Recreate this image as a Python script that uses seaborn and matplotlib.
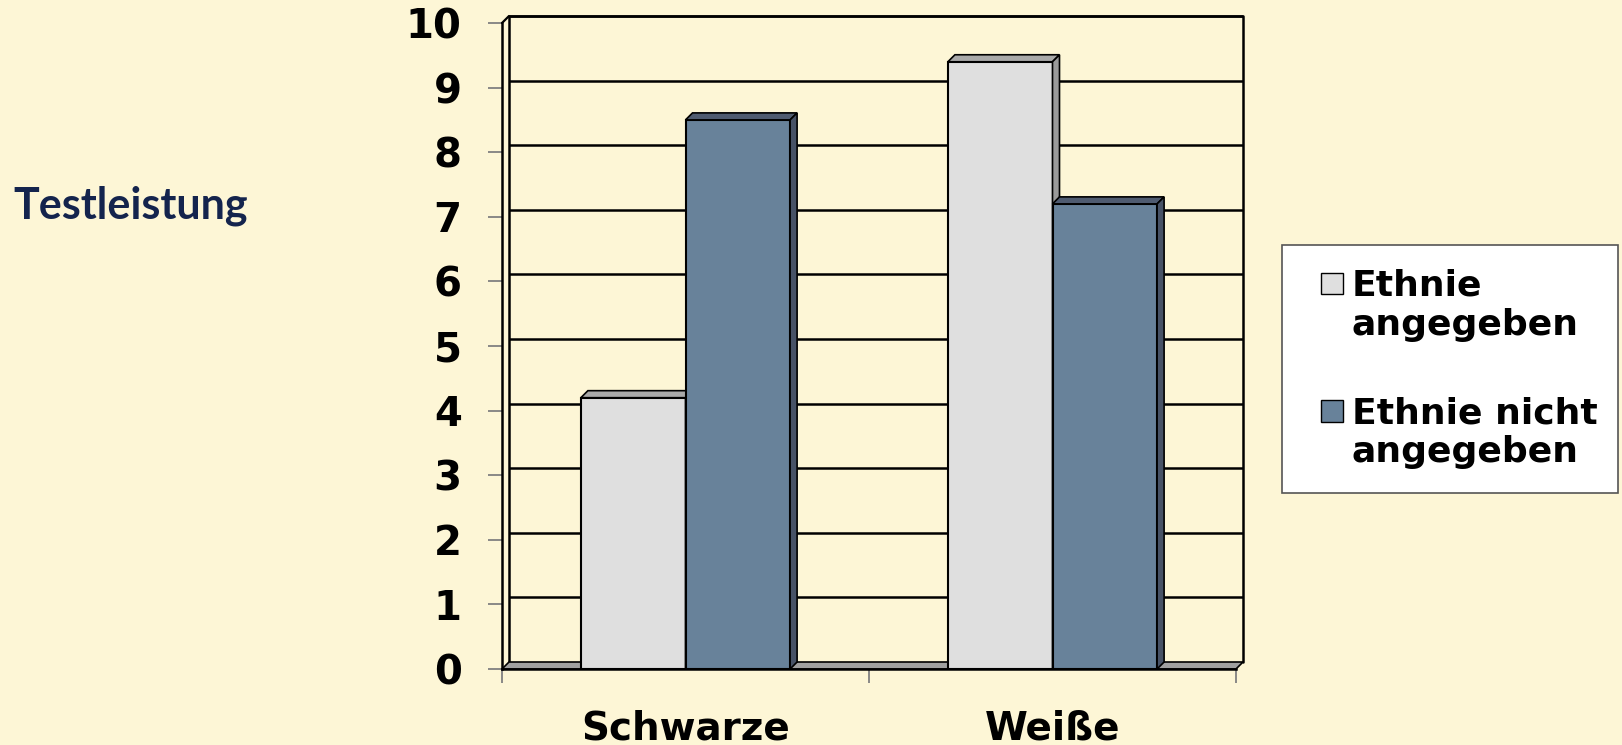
import numpy as np
import pandas as pd
import matplotlib
matplotlib.use("Agg")
import matplotlib.pyplot as plt
import matplotlib.transforms as mtrans
import seaborn as sns
from matplotlib.patches import Polygon, Rectangle
from matplotlib.legend_handler import HandlerPatch
from matplotlib.colors import to_rgb

# ---------------- data ----------------
groups = ["Schwarze", "Weiße"]
conditions = ["Ethnie\nangegeben", "Ethnie nicht\nangegeben"]
values_angegeben = [4.2, 9.4]
values_nicht_angegeben = [8.5, 7.2]
y_ticks = list(range(0, 11))
y_label = "Testleistung"

# ---------------- style ----------------
BG = "#fdf6d6"
LIGHT, DARK = "#dfdfdf", "#68829a"
FACE3D = {LIGHT: ("#a9a9a9", "#9a9a9a"), DARK: ("#4f5b70", "#475266")}
FLOOR = "#a0a0a0"
W, H, DPI = 1622, 745, 100
DEPTH = 7  # px of pseudo-3D depth

df = pd.DataFrame({
    "Gruppe": groups * 2,
    "Bedingung": [conditions[0]] * len(groups) + [conditions[1]] * len(groups),
    "Wert": values_angegeben + values_nicht_angegeben,
})

sns.set_theme(style="white")
plt.rcParams["font.family"] = ["DejaVu Sans"]

fig = plt.figure(figsize=(W / DPI, H / DPI), dpi=DPI, facecolor=BG)
ax_l, ax_r, ax_t, ax_b = 502, 1236, 23, 669
ax = fig.add_axes([ax_l / W, 1 - ax_b / H, (ax_r - ax_l) / W, (ax_b - ax_t) / H])
ax.set_facecolor("none")

sns.barplot(data=df, x="Gruppe", y="Wert", hue="Bedingung", order=groups,
            hue_order=conditions, palette=[LIGHT, DARK], saturation=1, width=0.57,
            edgecolor="black", linewidth=1.5, legend=False, ax=ax)
ax.set_ylim(y_ticks[0], y_ticks[-1])
ax.set_xlim(-0.5, len(groups) - 0.5)

ox = DEPTH / (ax_r - ax_l)
oy = DEPTH / (ax_b - ax_t)
xmin, xmax = ax.get_xlim()
ymin, ymax = ax.get_ylim()
dxd = ox * (xmax - xmin)
dyd = oy * (ymax - ymin)

# pseudo-3D faces for bars
bars = sorted([p for p in ax.patches if isinstance(p, Rectangle)], key=lambda p: p.get_x())
for i, bar in enumerate(bars):
    z = 3 + 0.1 * i
    bar.set_zorder(z)
    x0, w, h = bar.get_x(), bar.get_width(), bar.get_height()
    fc = bar.get_facecolor()[:3]
    key = LIGHT if np.allclose(fc, to_rgb(LIGHT), atol=0.03) else DARK
    top_c, side_c = FACE3D[key]
    ax.add_patch(Polygon([(x0, h), (x0 + w, h), (x0 + w + dxd, h + dyd), (x0 + dxd, h + dyd)],
                         closed=True, fc=top_c, ec="black", lw=1.2, zorder=z + 0.01,
                         clip_on=False))
    ax.add_patch(Polygon([(x0 + w, 0), (x0 + w + dxd, dyd), (x0 + w + dxd, h + dyd), (x0 + w, h)],
                         closed=True, fc=side_c, ec="black", lw=1.2, zorder=z + 0.01,
                         clip_on=False))

# back wall, gridlines and floor
shift = mtrans.ScaledTranslation(DEPTH / DPI, DEPTH / DPI, fig.dpi_scale_trans)
ax.hlines(y_ticks[1:], 0, 1, transform=ax.get_yaxis_transform() + shift,
          colors="black", lw=1.8, zorder=1, clip_on=False)
ax.plot([0, 0, 1, 1], [0, 1, 1, 0], transform=ax.transAxes + shift,
        color="black", lw=1.8, zorder=1, clip_on=False)
ax.plot([0, ox], [1, 1 + oy], transform=ax.transAxes, color="black", lw=1.6,
        zorder=1, clip_on=False)
ax.add_patch(Polygon([(0, 0), (1, 0), (1 + ox, oy), (ox, oy)], closed=True,
                     transform=ax.transAxes, fc=FLOOR, ec="black", lw=1.2, zorder=2,
                     clip_on=False))

# spines and ticks
for s in ["top", "right"]:
    ax.spines[s].set_visible(False)
for s in ["left", "bottom"]:
    ax.spines[s].set_color("black")
    ax.spines[s].set_linewidth(1.8)
    ax.spines[s].set_zorder(2.5)

ax.set_yticks(y_ticks)
ax.set_yticklabels([str(v) for v in y_ticks], fontsize=29, fontweight="bold", color="black")
ax.tick_params(axis="y", left=True, length=10, width=1.3, color="#808080", pad=19)
ax.set_xticks(range(len(groups)))
ax.set_xticklabels(groups, fontsize=28, fontweight="bold", color="black")
ax.set_xticks(np.arange(len(groups) + 1) - 0.5, minor=True)
ax.tick_params(axis="x", which="major", bottom=False, length=0, pad=29)
ax.tick_params(axis="x", which="minor", bottom=True, length=10, width=1.3, color="#808080")
ax.set_xlabel("")
ax.set_ylabel("")
ax.grid(False)

# y label as free text
fig.text(13 / W, 1 - 219 / H, y_label, ha="left", va="baseline", fontsize=31,
         fontweight="bold", color="#14244d", family=["Lato", "DejaVu Sans"])

# legend
def sq_patch(legend, orig_handle, xdescent, ydescent, width, height, fontsize):
    s = 0.6 * fontsize
    return Rectangle((-xdescent + width - s, -ydescent + (height - s) / 2 + 0.62 * fontsize), s, s)

handles = [Rectangle((0, 0), 1, 1, fc=c, ec="black", lw=1.0) for c in [LIGHT, DARK]]
leg = fig.legend(handles, conditions, loc="upper left",
                 bbox_to_anchor=(1282 / W, 1 - 493 / H, (1618 - 1282) / W, (493 - 245) / H),
                 mode="expand", borderaxespad=0, borderpad=0.65, labelspacing=1.5,
                 handlelength=1.03, handletextpad=0.25, fancybox=False, framealpha=1,
                 edgecolor="#555555", facecolor="white", labelcolor="black",
                 prop={"size": 26, "weight": "bold", "family": "DejaVu Sans"},
                 handler_map={Rectangle: HandlerPatch(patch_func=sq_patch)})
leg.get_frame().set_linewidth(1.2)

fig.savefig("out.png", dpi=DPI, facecolor=BG)
